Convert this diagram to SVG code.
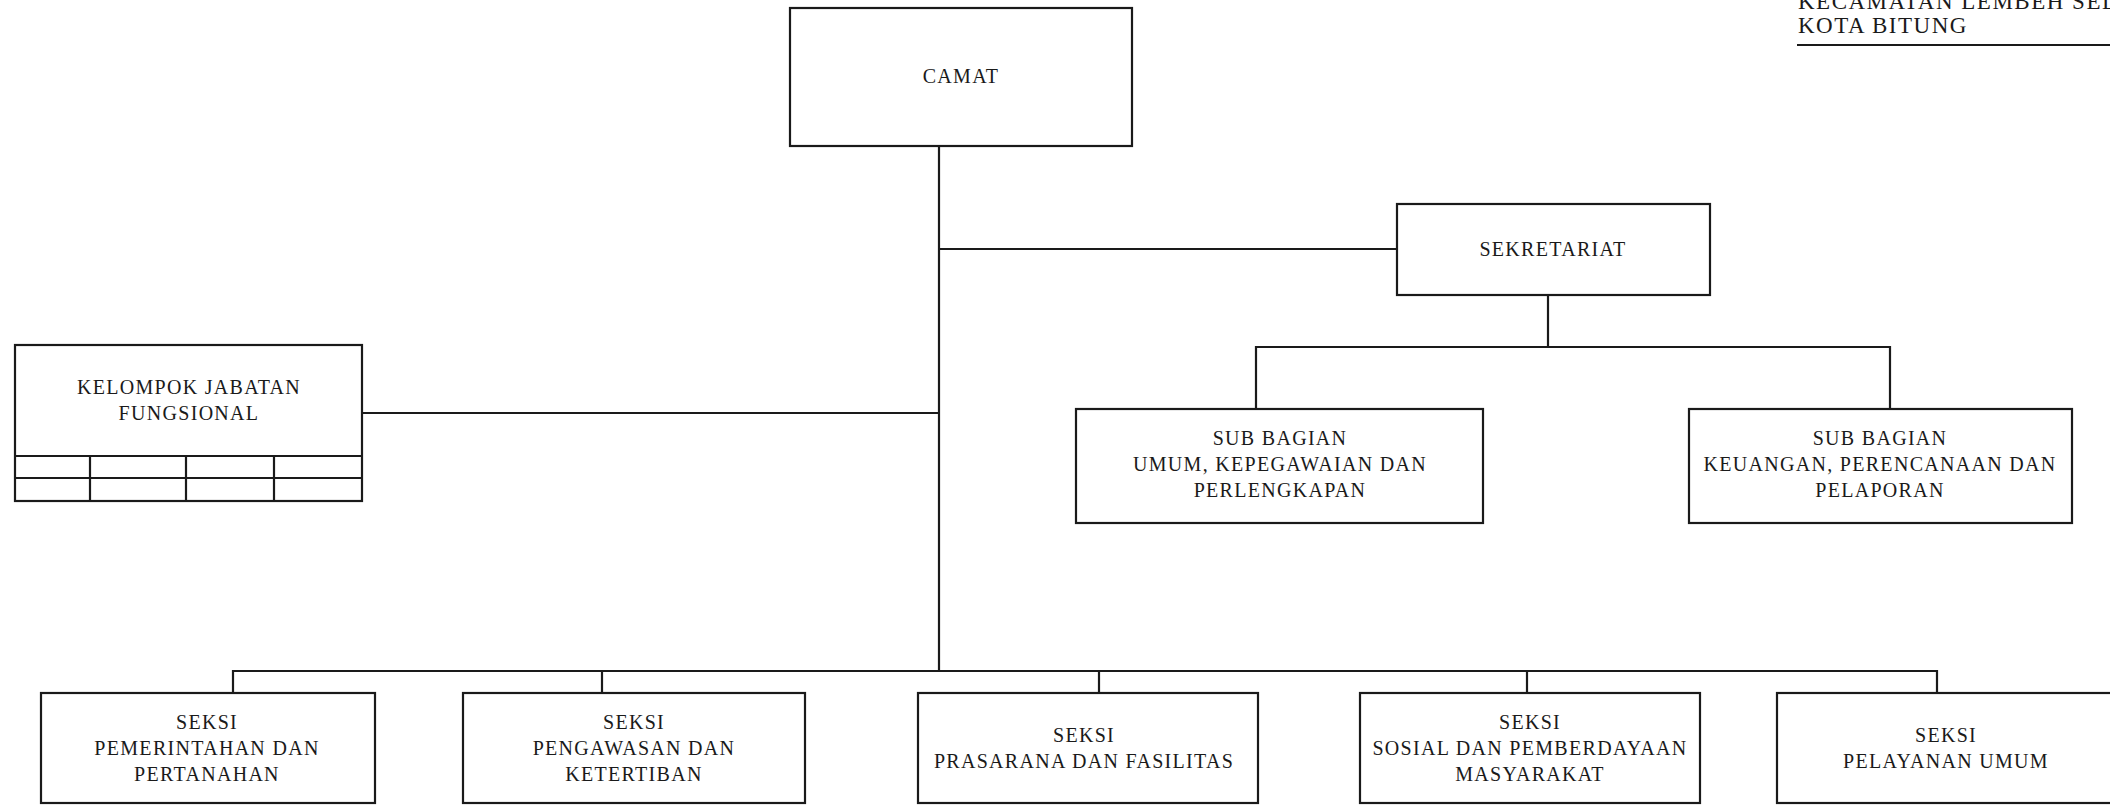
<svg xmlns="http://www.w3.org/2000/svg" width="2110" height="805" viewBox="0 0 2110 805">
<style>
.box{fill:#fff;stroke:#1a1a1a;stroke-width:2.2}
.ln{fill:none;stroke:#1a1a1a;stroke-width:2.2}
.t{font-family:"Liberation Serif","Times New Roman",serif;font-size:20px;letter-spacing:1.3px;fill:#1a1a1a;text-anchor:middle}
.h{font-family:"Liberation Serif","Times New Roman",serif;font-size:23px;letter-spacing:1.5px;fill:#1a1a1a}
</style>
<rect width="2110" height="805" fill="#fff"/>
<g id="header">
<text class="h" x="1798" y="9">KECAMATAN LEMBEH SELATAN</text>
<text class="h" x="1798" y="33">KOTA BITUNG</text>
<line class="ln" x1="1797" y1="45" x2="2110" y2="45"/>
</g>
<g id="connectors">
<polyline class="ln" points="939,146 939,671"/>
<polyline class="ln" points="939,249 1397,249"/>
<polyline class="ln" points="362,413 939,413"/>
<polyline class="ln" points="1548,295 1548,347"/>
<polyline class="ln" points="1256,409 1256,347 1890,347 1890,409"/>
<polyline class="ln" points="233,693 233,671 1937,671 1937,693"/>
<line class="ln" x1="602" y1="671" x2="602" y2="693"/>
<line class="ln" x1="1099" y1="671" x2="1099" y2="693"/>
<line class="ln" x1="1527" y1="671" x2="1527" y2="693"/>
</g>
<g id="camat">
<rect class="box" x="790" y="8" width="342" height="138"/>
<text class="t" x="961" y="83">CAMAT</text>
</g>
<g id="sekretariat">
<rect class="box" x="1397" y="204" width="313" height="91"/>
<text class="t" x="1553" y="256">SEKRETARIAT</text>
</g>
<g id="kelompok">
<rect class="box" x="15" y="345" width="347" height="156"/>
<line class="ln" x1="15" y1="456" x2="362" y2="456"/>
<line class="ln" x1="15" y1="478" x2="362" y2="478"/>
<line class="ln" x1="90" y1="456" x2="90" y2="501"/>
<line class="ln" x1="186" y1="456" x2="186" y2="501"/>
<line class="ln" x1="274" y1="456" x2="274" y2="501"/>
<text class="t" x="189" y="394">KELOMPOK JABATAN</text>
<text class="t" x="189" y="420">FUNGSIONAL</text>
</g>
<g id="subbag-umum">
<rect class="box" x="1076" y="409" width="407" height="114"/>
<text class="t" x="1280" y="445">SUB BAGIAN</text>
<text class="t" x="1280" y="471">UMUM, KEPEGAWAIAN DAN</text>
<text class="t" x="1280" y="497">PERLENGKAPAN</text>
</g>
<g id="subbag-keuangan">
<rect class="box" x="1689" y="409" width="383" height="114"/>
<text class="t" x="1880" y="445">SUB BAGIAN</text>
<text class="t" x="1880" y="471">KEUANGAN, PERENCANAAN DAN</text>
<text class="t" x="1880" y="497">PELAPORAN</text>
</g>
<g id="seksi-pemerintahan">
<rect class="box" x="41" y="693" width="334" height="110"/>
<text class="t" x="207" y="729">SEKSI</text>
<text class="t" x="207" y="755">PEMERINTAHAN DAN</text>
<text class="t" x="207" y="781">PERTANAHAN</text>
</g>
<g id="seksi-pengawasan">
<rect class="box" x="463" y="693" width="342" height="110"/>
<text class="t" x="634" y="729">SEKSI</text>
<text class="t" x="634" y="755">PENGAWASAN DAN</text>
<text class="t" x="634" y="781">KETERTIBAN</text>
</g>
<g id="seksi-prasarana">
<rect class="box" x="918" y="693" width="340" height="110"/>
<text class="t" x="1084" y="742">SEKSI</text>
<text class="t" x="1084" y="768">PRASARANA DAN FASILITAS</text>
</g>
<g id="seksi-sosial">
<rect class="box" x="1360" y="693" width="340" height="110"/>
<text class="t" x="1530" y="729">SEKSI</text>
<text class="t" x="1530" y="755">SOSIAL DAN PEMBERDAYAAN</text>
<text class="t" x="1530" y="781">MASYARAKAT</text>
</g>
<g id="seksi-pelayanan">
<rect class="box" x="1777" y="693" width="340" height="110"/>
<text class="t" x="1946" y="742">SEKSI</text>
<text class="t" x="1946" y="768">PELAYANAN UMUM</text>
</g>
</svg>
